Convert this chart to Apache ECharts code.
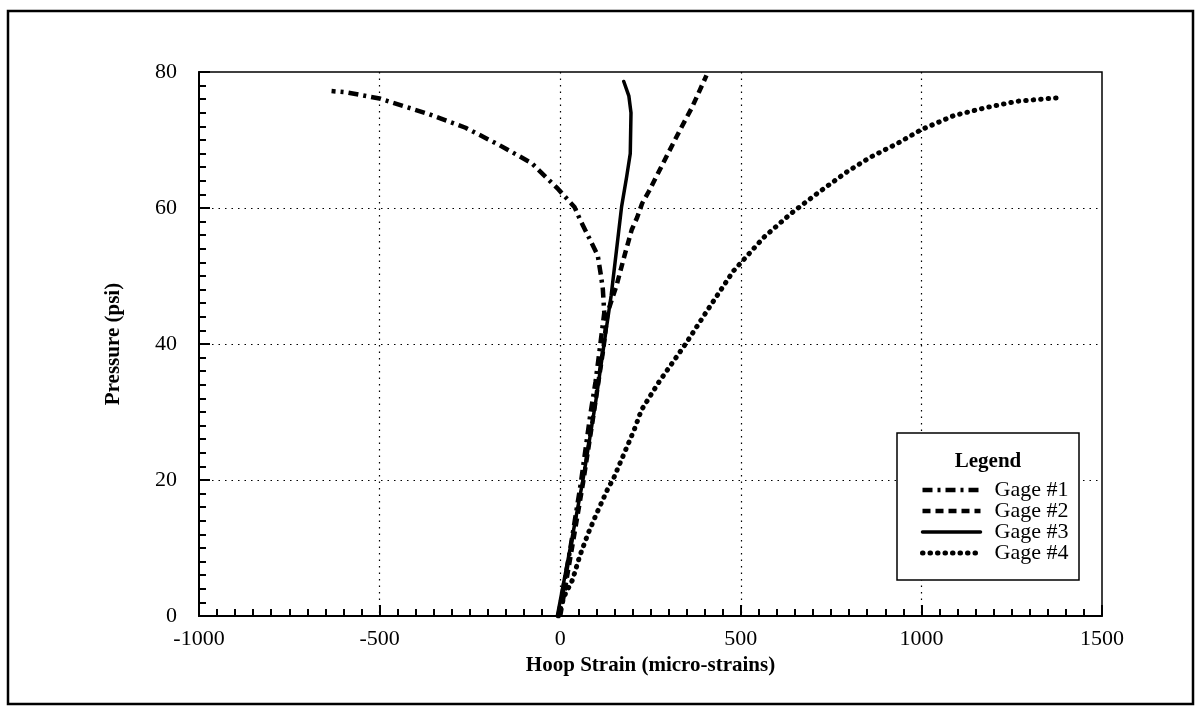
<!DOCTYPE html>
<html>
<head>
<meta charset="utf-8">
<script src="https://cdn.jsdelivr.net/npm/echarts@6/dist/echarts.min.js"></script>
<style>
html,body{margin:0;padding:0;background:#fff;}
#chart{width:1199px;height:709px;}
</style>
</head>
<body>
<div id="chart"></div>
<script>
// ---- data ----
const seriesNames = ['Gage #1', 'Gage #2', 'Gage #3', 'Gage #4'];

const gage1Strain   = [-5, 27, 57, 83, 98, 110, 122, 118, 113, 104, 82, 54, 40, -6, -79, -170, -262, -363, -500, -590, -633];
const gage1Pressure = [0, 9.6, 19.5, 29.5, 34.5, 39.5, 44.6, 48.1, 50.0, 53.0, 55.4, 58.4, 60.1, 62.8, 66.6, 69.3, 71.8, 73.8, 76.1, 77.0, 77.2];

const gage2Strain   = [0, 31, 63, 92, 120, 131, 156, 178, 198, 213, 227, 246, 284, 331, 365, 405];
const gage2Pressure = [0, 9.5, 19.5, 29.5, 39.5, 44.6, 48.6, 53.0, 56.8, 58.6, 60.7, 62.5, 66.5, 71.4, 74.8, 79.5];

const gage3Strain   = [-8, 26, 63, 98, 122, 141, 153, 170, 184, 194, 196, 190, 176];
const gage3Pressure = [0, 9.5, 20.0, 31.4, 40.2, 47.1, 52.5, 60.2, 64.6, 68.0, 74.0, 76.5, 78.6];

const gage4Strain   = [-5, 11, 34, 54, 77, 101, 130, 149, 205, 225, 272, 347, 413, 479, 508, 564, 639, 713, 796, 860, 934, 999, 1090, 1182, 1265, 1376];
const gage4Pressure = [0, 2.9, 5.3, 8.8, 12.1, 15.1, 18.5, 20.4, 27.4, 30.3, 34.3, 40.0, 45.4, 50.7, 52.4, 55.7, 59.2, 62.2, 65.4, 67.5, 69.5, 71.5, 73.6, 74.8, 75.7, 76.2];

const xTicks = [-1000, -500, 0, 500, 1000, 1500];
const yTicks = [0, 20, 40, 60, 80];

// ---- build ----
function pairs(xs, ys) { return xs.map((x, i) => [x, ys[i]]); }
const FONT = '"Liberation Serif", "Times New Roman", serif';

const styles = [
  { width: 4.5, type: [10, 5, 3, 5], cap: 'butt' },
  { width: 4.5, type: [8, 5], cap: 'butt' },
  { width: 3.5, type: 'solid', cap: 'round' },
  { width: 5, type: [0.5, 7], cap: 'round' }
];
const datasets = [
  pairs(gage1Strain, gage1Pressure),
  pairs(gage2Strain, gage2Pressure),
  pairs(gage3Strain, gage3Pressure),
  pairs(gage4Strain, gage4Pressure)
];

const chart = echarts.init(document.getElementById('chart'), null, { renderer: 'canvas' });

const splitStyle = { color: '#000', width: 1.2, type: [1.5, 5] };

const option = {
  animation: false,
  backgroundColor: '#fff',
  textStyle: { fontFamily: FONT, color: '#000' },
  grid: {
    left: 199, top: 72, width: 903, height: 544,
    show: true, borderColor: '#000', borderWidth: 1.5, backgroundColor: 'transparent'
  },
  xAxis: {
    type: 'value',
    min: xTicks[0], max: xTicks[xTicks.length - 1], interval: 500,
    name: 'Hoop Strain (micro-strains)',
    nameLocation: 'middle', nameGap: 38,
    nameTextStyle: { fontFamily: FONT, fontWeight: 'bold', fontSize: 21, color: '#000' },
    axisLine: { show: true, onZero: false, lineStyle: { color: '#000', width: 2 } },
    axisTick: { show: true, inside: true, length: 11, lineStyle: { color: '#000', width: 2 } },
    minorTick: { show: true, splitNumber: 10, length: 7, lineStyle: { color: '#000', width: 2 } },
    axisLabel: { fontFamily: FONT, fontSize: 22, color: '#000', margin: 12, formatter: v => String(v) },
    splitLine: { show: true, showMinLine: false, showMaxLine: false, lineStyle: splitStyle }
  },
  yAxis: {
    type: 'value',
    min: yTicks[0], max: yTicks[yTicks.length - 1], interval: 20,
    name: 'Pressure (psi)',
    nameLocation: 'middle', nameGap: 75, nameRotate: 90,
    nameTextStyle: { fontFamily: FONT, fontWeight: 'bold', fontSize: 21, color: '#000' },
    axisLine: { show: true, onZero: false, lineStyle: { color: '#000', width: 2 } },
    axisTick: { show: true, inside: true, length: 11, lineStyle: { color: '#000', width: 2 } },
    minorTick: { show: true, splitNumber: 10, length: 7, lineStyle: { color: '#000', width: 2 } },
    axisLabel: { fontFamily: FONT, fontSize: 22, color: '#000', margin: 22, formatter: v => String(v) },
    splitLine: { show: true, showMinLine: false, showMaxLine: false, lineStyle: splitStyle }
  },
  legend: {
    orient: 'vertical',
    left: 920, top: 479,
    padding: 0,
    itemWidth: 58, itemHeight: 20, itemGap: -1,
    data: seriesNames,
    itemStyle: { color: 'rgba(0,0,0,0)', borderWidth: 0, opacity: 0 },
    lineStyle: { width: 'inherit', type: 'inherit', color: '#000' },
    textStyle: { fontFamily: FONT, fontSize: 22, color: '#000', lineHeight: 20, padding: [0, 0, 0, 9] },
    selectedMode: false,
    z: 10
  },
  graphic: [
    {
      type: 'rect', z: 0, silent: true,
      shape: { x: 8, y: 11, width: 1185, height: 693 },
      style: { fill: 'none', stroke: '#000', lineWidth: 2.5 }
    },
    {
      type: 'rect', z: 9, silent: true,
      shape: { x: 897, y: 433, width: 182, height: 147 },
      style: { fill: '#fff', stroke: '#000', lineWidth: 1.5 }
    },
    {
      type: 'text', z: 10, silent: true,
      x: 988, y: 462,
      style: { text: 'Legend', font: 'bold 21px ' + FONT, fill: '#000', align: 'center', verticalAlign: 'middle' }
    }
  ],
  series: seriesNames.map((name, i) => ({
    name: name,
    type: 'line',
    data: datasets[i],
    symbol: 'none',
    showSymbol: false,
    smooth: false,
    clip: true,
    z: 3,
    itemStyle: { color: '#000' },
    lineStyle: { color: '#000', width: styles[i].width, type: styles[i].type, cap: styles[i].cap, join: 'round' }
  }))
};
chart.setOption(option);
</script>
</body>
</html>
